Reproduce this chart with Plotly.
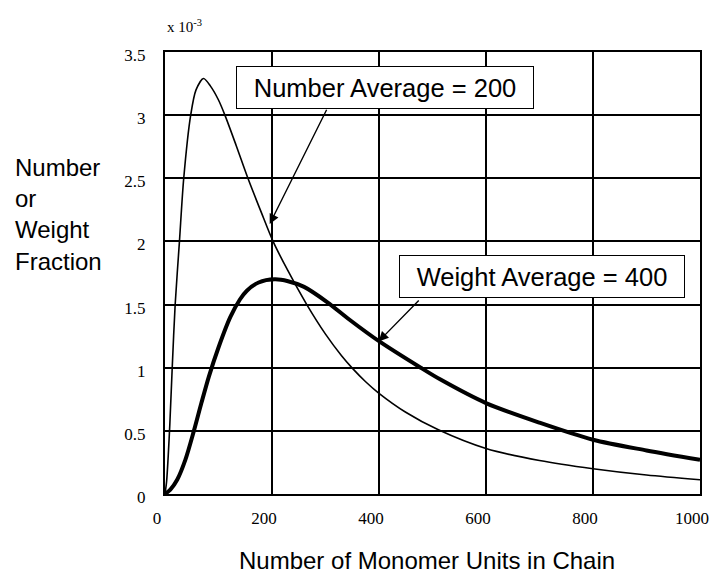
import plotly.graph_objects as go

# Number fraction (x 10^-3) vs chain length
num_x = [0, 3, 6, 9, 13.5, 19, 27, 35, 48, 58, 72, 85, 100, 112, 133, 155, 180, 202, 230, 265, 300, 330, 350, 375, 400, 450, 510, 600, 700, 800, 900, 1000]
num_y = [0, 0.1, 0.3, 0.55, 1.0, 1.5, 2.0, 2.5, 3.0, 3.2, 3.29, 3.23, 3.12, 3.0, 2.76, 2.5, 2.23, 2.0, 1.766, 1.5, 1.266, 1.095, 0.997, 0.889, 0.797, 0.647, 0.51, 0.36, 0.265, 0.2, 0.15, 0.113]

# Weight fraction (x 10^-3) vs chain length
wt_x = [0, 10, 23, 38, 54, 68, 82, 100, 122, 140, 153, 175, 205, 230, 260, 303, 345, 400, 478, 515, 600, 700, 800, 900, 1000]
wt_y = [0, 0.035, 0.115, 0.27, 0.5, 0.72, 0.93, 1.16, 1.40, 1.54, 1.61, 1.675, 1.70, 1.685, 1.64, 1.52, 1.38, 1.21, 1.0, 0.906, 0.72, 0.565, 0.43, 0.345, 0.27]

x_ticks = [0, 200, 400, 600, 800, 1000]
y_ticks = [0, 0.5, 1, 1.5, 2, 2.5, 3, 3.5]
y_ticklabels = ["0", "0.5", "1", "1.5", "2", "2.5", "3", "3.5"]

SANS = "Liberation Sans, Arial, sans-serif"
SERIF = "Liberation Serif, Times New Roman, serif"

fig = go.Figure()
fig.add_trace(go.Scatter(x=num_x, y=num_y, mode="lines",
                         line=dict(color="black", width=1.6, shape="spline", smoothing=0.8),
                         name="Number", showlegend=False))
fig.add_trace(go.Scatter(x=wt_x, y=wt_y, mode="lines",
                         line=dict(color="black", width=4, shape="spline", smoothing=0.8),
                         name="Weight", showlegend=False))

annotations = [
    # label boxes
    dict(x=410.8, y=3.22, xref="x", yref="y", text="Number Average = 200", showarrow=False,
         font=dict(family=SANS, size=25.5, color="black"), bgcolor="white",
         bordercolor="black", borderwidth=1, borderpad=0, width=296, height=41),
    dict(x=704.4, y=1.719, xref="x", yref="y", text="Weight Average = 400", showarrow=False,
         font=dict(family=SANS, size=25.5, color="black"), bgcolor="white",
         bordercolor="black", borderwidth=1, borderpad=0, width=284, height=41),
    # arrows
    dict(x=195.7, y=2.138, xref="x", yref="y", ax=303.5, ay=3.055, axref="x", ayref="y",
         text="", showarrow=True, arrowhead=2, arrowsize=1.4, arrowwidth=1.4, arrowcolor="black"),
    dict(x=399.3, y=1.208, xref="x", yref="y", ax=477, ay=1.545, axref="x", ayref="y",
         text="", showarrow=True, arrowhead=2, arrowsize=1.4, arrowwidth=1.4, arrowcolor="black"),
    # exponent label
    dict(x=0.0, y=1.0, xref="paper", yref="paper", xanchor="left", yanchor="bottom", yshift=15,
         text="x 10<sup>-3</sup>", showarrow=False, font=dict(family=SERIF, size=15, color="black")),
    # y title
    dict(x=-0.2848, y=0.633, xref="paper", yref="paper", xanchor="left", yanchor="middle", align="left",
         text="Number<br>or<br>Weight<br>Fraction", showarrow=False,
         font=dict(family=SANS, size=24, color="black")),
    # x title
    dict(x=0.49, y=-0.150, xref="paper", yref="paper", xanchor="center", yanchor="middle",
         text="Number of Monomer Units in Chain", showarrow=False,
         font=dict(family=SANS, size=24, color="black")),
]

fig.update_layout(
    width=710, height=576,
    margin=dict(l=164.5, r=10, t=51.7, b=81.5),
    paper_bgcolor="white", plot_bgcolor="white",
    annotations=annotations,
    showlegend=False,
)
fig.update_xaxes(range=[0, 1000], tickvals=x_ticks, showgrid=True, gridcolor="black", gridwidth=1.6,
                 showline=True, linecolor="black", linewidth=2, mirror=True, zeroline=False,
                 ticks="", ticklabelstandoff=8, ticklabelshift=-8, automargin=False,
                 tickfont=dict(family=SERIF, size=17, color="black"))
fig.update_yaxes(range=[0, 3.5], tickvals=y_ticks, ticktext=y_ticklabels, showgrid=True,
                 gridcolor="black", gridwidth=1.6,
                 showline=True, linecolor="black", linewidth=2, mirror=True, zeroline=False,
                 ticks="", ticklabelstandoff=14, ticklabelshift=3, automargin=False,
                 tickfont=dict(family=SERIF, size=17, color="black"))

fig.write_html("out.html", config={"displayModeBar": False},
               post_script="document.body.style.margin='0';document.body.style.overflow='hidden';")
